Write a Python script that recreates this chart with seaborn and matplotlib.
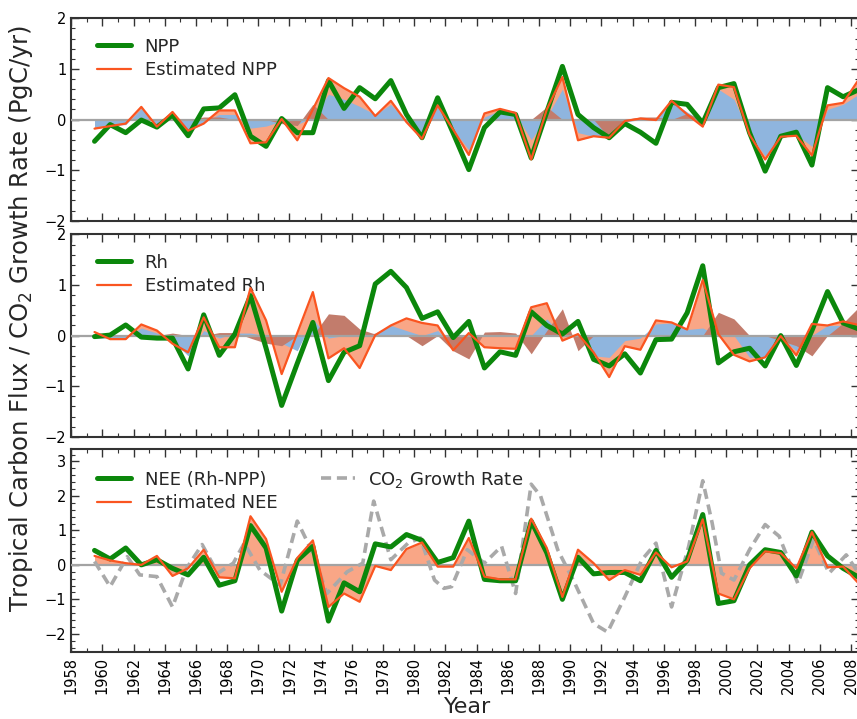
import numpy as np
import pandas as pd
import matplotlib
matplotlib.use("Agg")
import matplotlib.pyplot as plt
from matplotlib.ticker import MultipleLocator
import seaborn as sns

# ---------------- data ----------------
years = [1959.5 + i for i in range(50)]

npp = [-0.43, -0.10, -0.26, -0.01, -0.15, 0.09, -0.32, 0.21, 0.23, 0.49,
       -0.33, -0.53, 0.02, -0.26, -0.26, 0.77, 0.22, 0.63, 0.41, 0.77,
       0.10, -0.36, 0.43, -0.27, -0.99, -0.16, 0.15, 0.10, -0.76, 0.15,
       1.05, 0.10, -0.16, -0.36, -0.08, -0.25, -0.47, 0.34, 0.30, -0.07,
       0.63, 0.71, -0.26, -1.02, -0.33, -0.25, -0.90, 0.63, 0.45, 0.59]
est_npp = [-0.18, -0.13, -0.08, 0.25, -0.14, 0.15, -0.22, -0.08, 0.18, 0.18,
           -0.47, -0.45, 0.01, -0.41, 0.20, 0.82, 0.62, 0.45, 0.07, 0.37,
           -0.05, -0.38, 0.28, -0.20, -0.70, 0.12, 0.21, 0.13, -0.79, 0.20,
           0.84, -0.41, -0.33, -0.36, -0.03, 0.02, -0.01, 0.37, 0.10, -0.14,
           0.69, 0.64, -0.30, -0.79, -0.34, -0.32, -0.71, 0.28, 0.33, 0.79]
temp_npp = [-0.14, -0.12, -0.10, 0.22, -0.12, 0.12, -0.20, -0.05, 0.10, 0.10,
            -0.17, -0.13, -0.03, -0.10, 0.05, 0.50, 0.40, 0.26, 0.10, 0.30,
            -0.05, -0.30, 0.25, -0.20, -0.60, 0.05, 0.18, 0.10, -0.40, 0.05,
            0.60, -0.26, -0.33, -0.30, -0.05, 0.00, 0.00, 0.35, 0.15, -0.05,
            0.60, 0.40, -0.30, -0.72, -0.33, -0.30, -0.53, 0.20, 0.30, 0.50]
prec_npp = [0, 0, 0, 0, 0, 0, 0, 0.05, 0.05, 0,
            0, 0, -0.08, -0.12, 0.30, 0, 0, 0, 0, 0,
            0, 0, 0, 0, 0, 0, 0, 0, 0, 0.25,
            0, 0, 0, -0.36, 0, 0.05, 0.05, 0, 0.12, 0,
            0, 0, 0, 0, 0, 0, 0, 0, 0, 0]

rh = [-0.02, 0.01, 0.21, -0.03, -0.05, -0.05, -0.66, 0.41, -0.39, 0.03,
      0.79, -0.25, -1.38, -0.55, 0.26, -0.89, -0.33, -0.20, 1.02, 1.27,
      0.95, 0.34, 0.47, -0.04, 0.28, -0.64, -0.32, -0.39, 0.47, 0.20,
      0.03, 0.28, -0.47, -0.60, -0.36, -0.74, -0.08, -0.07, 0.45, 1.38,
      -0.54, -0.32, -0.25, -0.60, 0.00, -0.59, 0.10, 0.87, 0.25, 0.13]
est_rh = [0.07, -0.07, -0.07, 0.22, 0.10, -0.16, -0.33, 0.36, -0.23, -0.23,
          0.94, 0.30, -0.76, 0.05, 0.86, -0.45, -0.25, -0.64, 0.01, 0.20,
          0.34, 0.25, 0.20, -0.29, 0.05, -0.23, -0.25, -0.26, 0.56, 0.64,
          -0.10, 0.03, -0.33, -0.82, -0.21, -0.28, 0.30, 0.26, 0.12, 1.10,
          0.03, -0.38, -0.51, -0.43, -0.01, -0.39, 0.23, 0.20, 0.28, 0.21]
temp_rh = [-0.05, -0.05, -0.05, 0.15, 0.05, -0.10, -0.40, 0.10, -0.05, 0.05,
           0.05, 0.00, -0.15, -0.30, 0.33, -0.05, 0.00, 0.00, 0.05, 0.20,
           0.10, 0.00, 0.10, -0.20, 0.00, 0.00, 0.00, 0.00, 0.00, 0.33,
           0.00, 0.00, -0.40, -0.43, -0.10, -0.05, 0.23, 0.25, 0.12, 0.15,
           0.00, 0.00, -0.43, -0.43, -0.05, -0.30, 0.00, 0.20, 0.20, 0.10]
prec_rh = [-0.05, 0, 0, 0, 0, 0.05, 0, 0, 0.06, 0.06,
           -0.05, -0.15, -0.20, 0, 0, 0.43, 0.40, 0.13, 0.03, 0,
           0, -0.20, 0, -0.30, -0.46, 0.07, 0.08, 0.05, -0.36, 0.10,
           0.53, -0.30, 0, 0, 0, 0, 0, 0, 0, 0,
           0.46, 0.33, 0, 0, -0.10, -0.20, -0.40, 0, 0.25, 0.56]

nee = [0.42, 0.17, 0.49, 0.00, 0.15, -0.10, -0.29, 0.22, -0.59, -0.46,
       1.14, 0.49, -1.34, 0.13, 0.54, -1.63, -0.52, -0.78, 0.61, 0.52,
       0.88, 0.71, 0.07, 0.21, 1.27, -0.42, -0.46, -0.46, 1.27, 0.35,
       -1.00, 0.22, -0.26, -0.22, -0.22, -0.46, 0.42, -0.36, 0.13, 1.46,
       -1.12, -1.04, 0.00, 0.44, 0.36, -0.32, 0.95, 0.26, -0.10, -0.36]
est_nee = [0.26, 0.13, 0.05, 0.00, 0.26, -0.32, -0.10, 0.44, -0.36, -0.39,
           1.41, 0.75, -0.78, 0.20, 0.71, -1.22, -0.83, -1.07, -0.03, -0.15,
           0.46, 0.65, -0.05, -0.05, 0.78, -0.34, -0.42, -0.42, 1.34, 0.49,
           -0.93, 0.44, 0.05, -0.44, -0.15, -0.29, 0.36, -0.07, 0.10, 1.32,
           -0.83, -1.00, -0.10, 0.39, 0.34, -0.10, 0.95, -0.07, -0.05, -0.54]

co2_years = [1959.5, 1960.5, 1961.6, 1962.4, 1963.5, 1964.5, 1965.4, 1966.4,
             1967.4, 1968.4, 1969.1, 1970.1, 1971.4, 1972.5, 1973.5, 1974.4,
             1975.7, 1976.7, 1977.4, 1978.5, 1979.6, 1980.4, 1981.3, 1981.9,
             1982.4, 1983.4, 1984.5, 1985.6, 1986.5, 1987.5, 1988.1, 1989.2,
             1990.3, 1991.5, 1992.4, 1993.5, 1994.6, 1995.5, 1996.5, 1997.6,
             1998.5, 1999.1, 1999.7, 2000.5, 2001.5, 2002.5, 2003.4, 2004.6,
             2005.6, 2006.6, 2007.7, 2008.5]
co2_rate = [0.10, -0.63, 0.24, -0.29, -0.34, -1.22, -0.10, 0.59,
            -0.24, 0.05, 0.63, -0.15, -0.59, 1.27, 0.34, -0.83,
            -0.20, 0.05, 1.85, 0.15, 0.63, 0.78, -0.44, -0.68,
            -0.63, 0.44, 0.05, 0.54, -0.83, 2.34, 2.00, 0.44,
            -0.54, -1.70, -1.95, -0.93, 0.15, 0.63, -1.22, 0.54,
            2.44, 1.22, -0.24, -0.44, 0.44, 1.17, 0.83, -0.54,
            0.73, -0.24, 0.29, -0.24]

xticks = list(range(1958, 2009, 2))

# ---------------- style ----------------
GREEN = "#0b870b"
ORANGE = "#fa5520"
SALMON = "#f9a686"
BLUE = "#8fb5de"
BROWN = "#c27c6c"
ZERO = "#a3a3a3"
GREY = "#a9a9a9"

sns.set_style("ticks")
plt.rcParams["font.family"] = ["DejaVu Sans"]

fig = plt.figure(figsize=(8.57, 7.19), dpi=100)
H = 0.2815
axes = [fig.add_axes([0.083, 0.6930, 0.919, H]),
        fig.add_axes([0.083, 0.3925, 0.919, H]),
        fig.add_axes([0.083, 0.0935, 0.919, H])]

panels = [
    (npp, est_npp, temp_npp, prec_npp, "NPP", "Estimated NPP"),
    (rh, est_rh, temp_rh, prec_rh, "Rh", "Estimated Rh"),
    (nee, est_nee, None, None, "NEE (Rh-NPP)", "Estimated NEE"),
]

for k, (ax, (obs, est, tcomp, pcomp, lab1, lab2)) in enumerate(zip(axes, panels)):
    ax.fill_between(years, 0, est, color=SALMON, lw=0, zorder=1)
    if tcomp is not None:
        ax.fill_between(years, 0, tcomp, color=BLUE, lw=0, zorder=2)
        ax.fill_between(years, 0, pcomp, color=BROWN, lw=0, zorder=3)
    ax.axhline(0, color=ZERO, lw=1.6, zorder=4)
    if k == 2:
        sns.lineplot(x=co2_years, y=co2_rate, ax=ax, color=GREY, lw=2.6,
                     linestyle=(0, (2.8, 1.6)), zorder=5,
                     label="CO$_2$ Growth Rate")
    sns.lineplot(x=years, y=obs, ax=ax, color=GREEN, lw=3.6, zorder=6, label=lab1)
    sns.lineplot(x=years, y=est, ax=ax, color=ORANGE, lw=1.6, zorder=7, label=lab2)

    ax.set_xlim(1958, 2008.5)
    ax.xaxis.set_major_locator(MultipleLocator(2))
    ax.xaxis.set_minor_locator(MultipleLocator(1))
    ax.yaxis.set_major_locator(MultipleLocator(1))
    ax.yaxis.set_minor_locator(MultipleLocator(0.2))
    ax.tick_params(which="both", direction="in", top=True, right=True,
                   colors="#333333", labelcolor="black")
    ax.tick_params(which="major", length=6, width=1.0, labelsize=10.5)
    ax.tick_params(which="minor", length=3, width=0.8)
    for s in ax.spines.values():
        s.set_color("#333333")
        s.set_linewidth(1.5)
    ax.set_xlabel("")
    ax.set_ylabel("")
    if k < 2:
        ax.set_ylim(-2, 2)
        ax.set_yticks([-2, -1, 0, 1, 2])
        ax.tick_params(axis="x", labelbottom=False)
    else:
        ax.set_ylim(-2.52, 3.35)
        ax.set_yticks([-2, -1, 0, 1, 2, 3])
        ax.set_xticks(xticks)
        ax.set_xticklabels([str(y) for y in xticks], rotation=90)

# legends
for k, ax in enumerate(axes):
    h, l = ax.get_legend_handles_labels()
    if k == 2:
        lookup = dict(zip(l, h))
        l = ["NEE (Rh-NPP)", "Estimated NEE", "CO$_2$ Growth Rate"]
        h = [lookup[x] for x in l]
        ax.legend(h, l, loc="upper left", bbox_to_anchor=(0.012, 0.985),
                  frameon=False, fontsize=13, ncol=2, handlelength=1.9,
                  labelspacing=0.3, columnspacing=2.4, handletextpad=0.75)
    else:
        ax.legend(h, l, loc="upper left", bbox_to_anchor=(0.012, 0.985),
                  frameon=False, fontsize=13, handlelength=1.9,
                  labelspacing=0.3, handletextpad=0.75)

fig.text(0.024, 0.557, "Tropical Carbon Flux / CO$_2$ Growth Rate (PgC/yr)",
         rotation=90, ha="center", va="center", fontsize=17.5)
fig.text(0.546, 0.008, "Year", ha="center", va="baseline", fontsize=16)

fig.savefig("out.png", dpi=100)
